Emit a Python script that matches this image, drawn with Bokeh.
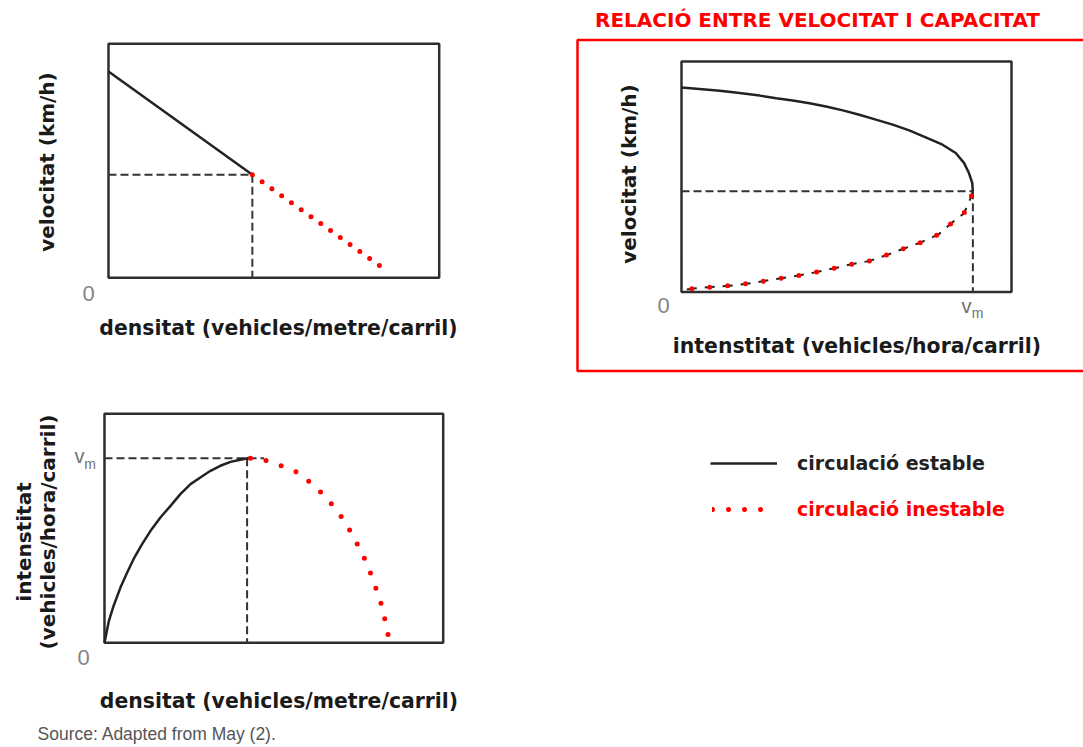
from bokeh.plotting import figure
from bokeh.models import Range1d, Legend, LegendItem
from bokeh.core.properties import value
from bokeh.embed import file_html
from bokeh.resources import INLINE
import math

# ---------------- data (fractions of each axis extent) ----------------
AXIS_MAX = 1.0

# Panel 1: velocitat vs densitat
p1_dens_stable = [0.0, 0.435]
p1_vel_stable = [0.882, 0.440]
p1_dens_unstable = [0.435, 0.846]
p1_vel_unstable = [0.440, 0.026]
p1_dens_crit = 0.435
p1_vel_crit = 0.440

# Panel 2: velocitat vs intensitat
p2_flow_stable = [0.0, 0.045, 0.116, 0.176, 0.237, 0.287, 0.337, 0.388, 0.438,
                  0.489, 0.539, 0.589, 0.640, 0.690, 0.740, 0.791, 0.831, 0.856,
                  0.871, 0.881, 0.883]
p2_vel_stable = [0.887, 0.882, 0.873, 0.863, 0.852, 0.841, 0.831, 0.819, 0.805,
                 0.788, 0.769, 0.748, 0.726, 0.701, 0.671, 0.639, 0.603, 0.560,
                 0.516, 0.473, 0.437]
p2_flow_unstable = [0.883, 0.876, 0.856, 0.819, 0.779, 0.725, 0.675, 0.621, 0.571,
                    0.517, 0.463, 0.400, 0.345, 0.285, 0.218, 0.161, 0.101, 0.043, 0.003]
p2_vel_unstable = [0.437, 0.406, 0.341, 0.300, 0.250, 0.215, 0.189, 0.160, 0.135,
                   0.121, 0.103, 0.084, 0.069, 0.056, 0.040, 0.029, 0.023, 0.016, 0.009]
p2_flow_max = 0.883
p2_vel_crit = 0.437

# Panel 3: intensitat vs densitat
p3_dens_stable = [0.0, 0.013, 0.027, 0.047, 0.067, 0.086, 0.111, 0.136, 0.165,
                  0.195, 0.224, 0.254, 0.283, 0.313, 0.342, 0.372, 0.401, 0.426, 0.431]
p3_flow_stable = [0.0, 0.096, 0.162, 0.241, 0.307, 0.366, 0.431, 0.489, 0.547,
                  0.598, 0.649, 0.693, 0.722, 0.751, 0.773, 0.790, 0.799, 0.807, 0.806]
p3_dens_unstable = [0.431, 0.448, 0.511, 0.571, 0.608, 0.647, 0.683, 0.708, 0.732,
                    0.753, 0.772, 0.791, 0.809, 0.824, 0.831, 0.842]
p3_flow_unstable = [0.806, 0.809, 0.780, 0.744, 0.700, 0.646, 0.584, 0.533, 0.472,
                    0.412, 0.355, 0.283, 0.205, 0.137, 0.070, 0.009]
p3_dens_crit = 0.421
p3_flow_max = 0.806

# ---------------- page geometry ----------------
W, H = 1083, 747
OFF = 0
BOX = {  # screen boxes of each panel frame: left, top, right, bottom
    "p1": (108, 43.3, 438.7, 277.3),
    "p2": (681, 61, 1011, 291.5),
    "p3": (104, 413.3, 442.7, 642.3),
}
XR, YR = {}, {}
for name, (L, T, R, B) in BOX.items():
    sx = AXIS_MAX / (R - L)
    sy = AXIS_MAX / (B - T)
    XR[name] = Range1d(-(L - OFF) * sx, AXIS_MAX + (OFF + W - R) * sx)
    YR[name] = Range1d(-(OFF + H - B) * sy, AXIS_MAX + (T - OFF) * sy)


def sd(name, sx, sy):
    xr, yr = XR[name], YR[name]
    cx, cy = sx - OFF, sy - OFF
    return (xr.start + cx / W * (xr.end - xr.start),
            yr.end - cy / H * (yr.end - yr.start))


p = figure(width=W, height=H, x_range=Range1d(0, W), y_range=Range1d(0, H),
           x_axis_location=None, y_axis_location=None, toolbar_location=None,
           output_backend="svg", min_border=0, outline_line_color=None,
           background_fill_color="white", border_fill_color="white")
p.extra_x_ranges = XR
p.extra_y_ranges = YR
p.grid.visible = False

DARK = "#222222"
RED = "#ff0000"
BOXC = "#2e2e2e"
GRAY0 = "#858585"


def rn(name):
    return dict(x_range_name=name, y_range_name=name)


def txt(name, sx, sy, s, size, font="DejaVu Sans", style="bold", color="#1a1a1a",
        angle=0.0, align="center"):
    x, y = sd(name, sx, sy)
    p.text(x=[x], y=[y], text=[s], angle=angle, text_align=align,
           text_baseline="middle", text_font=value(font),
           text_font_size=value(f"{size}px"), text_font_style=style,
           text_color=color, **rn(name))


# ---- red frame around panel 2 ----
rl, rt = sd("p2", 577, 39.5)
rr, rb = sd("p2", 1110, 370.5)
p.quad(left=rl, right=rr, top=rt, bottom=rb, fill_color=None,
       line_color=RED, line_width=2.5, **rn("p2"))

# ---- boxes ----
for name in ("p1", "p2", "p3"):
    p.quad(left=0, right=AXIS_MAX, bottom=0, top=AXIS_MAX, fill_color=None,
           line_color=BOXC, line_width=2.5, **rn(name))

DASH = dict(line_color="#333333", line_width=2, line_dash="8 4")

# ---- Panel 1 ----
p.line([0, p1_dens_crit], [p1_vel_crit, p1_vel_crit], **DASH, **rn("p1"))
p.line([p1_dens_crit, p1_dens_crit], [p1_vel_crit, 0], **DASH, **rn("p1"))
r1_stable = p.line(p1_dens_stable, p1_vel_stable, line_color=DARK, line_width=2.5, **rn("p1"))
p.line(p1_dens_unstable, p1_vel_unstable, line_color=RED, line_width=5,
       line_dash="0 12", line_cap="round", **rn("p1"))

# ---- Panel 2 ----
p.line([0, p2_flow_max], [p2_vel_crit, p2_vel_crit], **DASH, **rn("p2"))
p.line([p2_flow_max, p2_flow_max], [p2_vel_crit, 0], **DASH, **rn("p2"))
p.line(p2_flow_stable, p2_vel_stable, line_color=DARK, line_width=2.5, **rn("p2"))
p.line(p2_flow_unstable, p2_vel_unstable, line_color=DARK, line_width=2,
       line_dash="10 8", **rn("p2"))
p.line(p2_flow_unstable, p2_vel_unstable, line_color=RED, line_width=5,
       line_dash="0 18", line_dash_offset=13, line_cap="round", **rn("p2"))

# ---- Panel 3 ----
p.line([0, p3_dens_crit + 0.05], [p3_flow_max, p3_flow_max], **DASH, **rn("p3"))
p.line([p3_dens_crit, p3_dens_crit], [p3_flow_max, 0], **DASH, **rn("p3"))
p.line(p3_dens_stable, p3_flow_stable, line_color=DARK, line_width=2.5, **rn("p3"))
r3_unstable = p.line(p3_dens_unstable, p3_flow_unstable, line_color=RED, line_width=5,
                     line_dash="0 16", line_cap="round", **rn("p3"))

# ---- texts ----
ROT = math.pi / 2
txt("p1", 46.7, 161.5, "velocitat (km/h)", 20, angle=ROT)
txt("p1", 278, 327, "densitat (vehicles/metre/carril)", 20.4)
txt("p1", 88, 293, "0", 22, font="Liberation Sans", style="normal", color=GRAY0)

txt("p2", 817, 19.5, "RELACIÓ ENTRE VELOCITAT I CAPACITAT", 20, color=RED)
txt("p2", 628, 173.5, "velocitat (km/h)", 20, angle=ROT)
txt("p2", 856.5, 345, "intenstitat (vehicles/hora/carril)", 20.4)
txt("p2", 663, 305, "0", 22, font="Liberation Sans", style="normal", color=GRAY0)
txt("p2", 966, 305, "v", 20, font="Liberation Sans", style="normal", color="#707070")
txt("p2", 977, 312.5, "m", 14, font="Liberation Sans", style="normal", color="#707070")

txt("p3", 23, 541.5, "intenstitat", 20, angle=ROT)
txt("p3", 47, 531.5, "(vehicles/hora/carril)", 20, angle=ROT)
txt("p3", 278.5, 700, "densitat (vehicles/metre/carril)", 20.4)
txt("p3", 83, 657, "0", 22, font="Liberation Sans", style="normal", color=GRAY0)
txt("p3", 79, 455.5, "v", 20, font="Liberation Sans", style="normal", color="#707070")
txt("p3", 89.5, 463, "m", 14, font="Liberation Sans", style="normal", color="#707070")

txt("p3", 37, 733, "Source: Adapted from May (2).", 17.5, font="Liberation Sans",
    style="normal", color="#555555", align="left")

# ---- legend ----
LEG = dict(padding=0, margin=0, spacing=0, border_line_alpha=0,
           background_fill_alpha=0, glyph_height=24,
           label_text_font="DejaVu Sans", label_text_font_style="bold",
           label_text_font_size="19px")
leg1 = Legend(items=[LegendItem(label="circulació estable", renderers=[r1_stable])],
              location=(710 - OFF, H - (463 - OFF) - 12), glyph_width=67,
              label_standoff=20, label_text_color="#222222", **LEG)
leg2 = Legend(items=[LegendItem(label="circulació inestable", renderers=[r3_unstable])],
              location=(712 - OFF, H - (509 - OFF) - 12), glyph_width=64,
              label_standoff=21, label_text_color=RED, **LEG)
p.add_layout(leg1, "center")
p.add_layout(leg2, "center")

open("out.html", "w").write(file_html(p, INLINE))
